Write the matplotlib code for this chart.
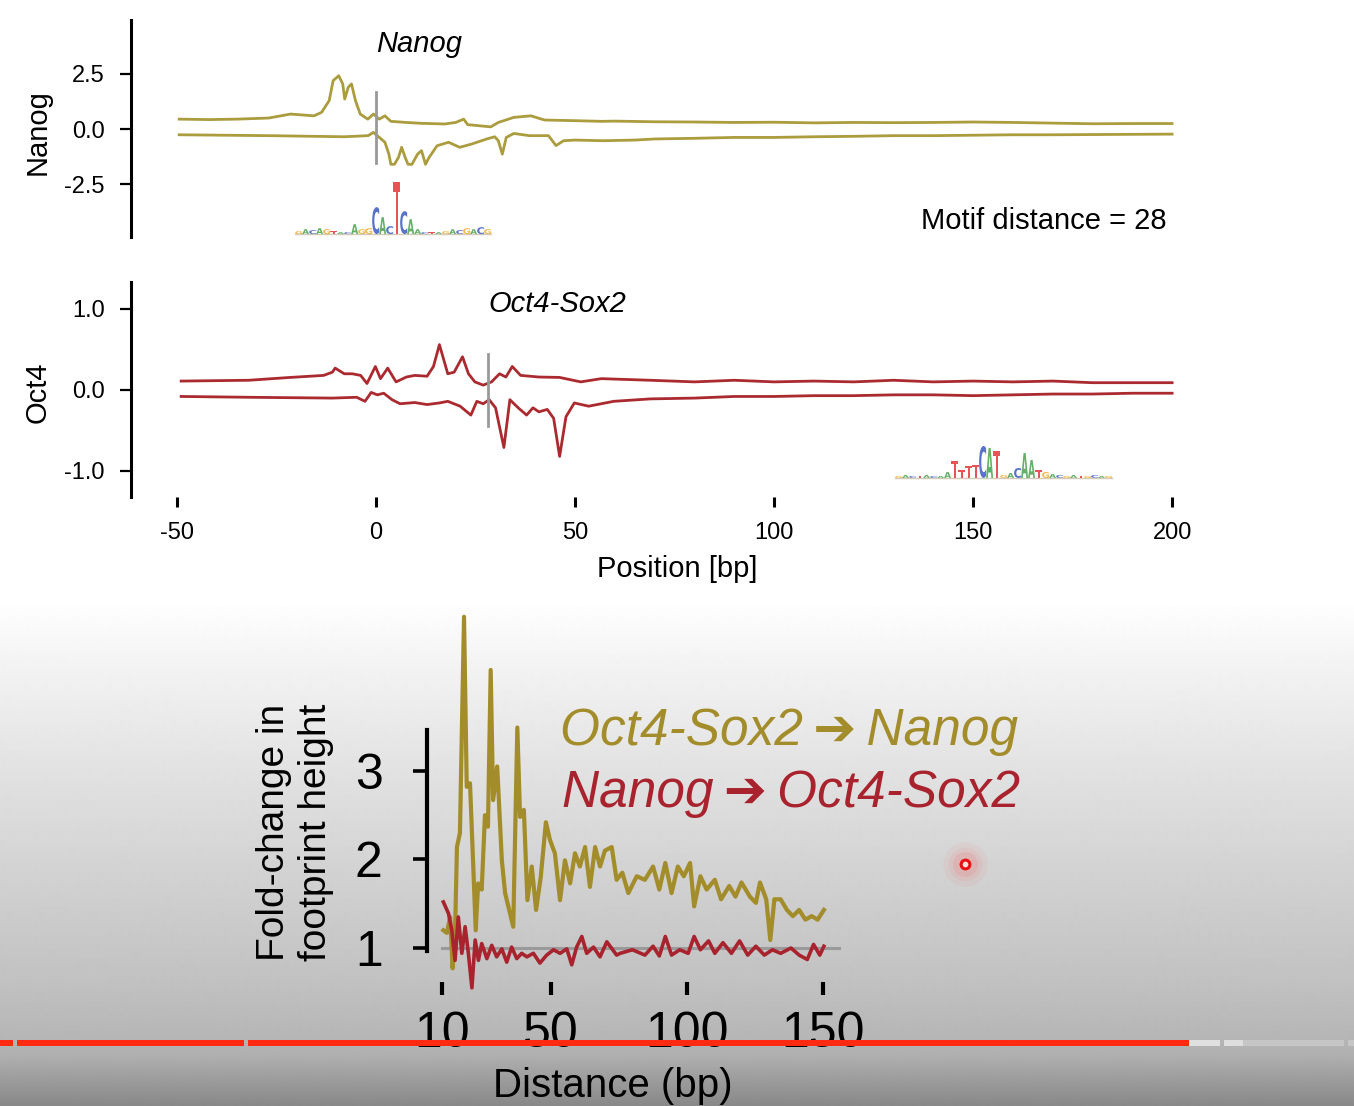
import numpy as np
import matplotlib.pyplot as plt
from matplotlib.textpath import TextPath
from matplotlib.patches import PathPatch, Rectangle
from matplotlib.font_manager import FontProperties
from matplotlib.transforms import Affine2D
from matplotlib.ticker import FormatStrFormatter

plt.rcParams['font.family'] = ['Liberation Sans', 'DejaVu Sans']
plt.rcParams['axes.unicode_minus'] = False

W, H = 1354, 1106

# ---- footprint profiles (position in bp, signal) ----
nanog_fwd_x = [-49.5, -42, -35, -27, -21.5, -15.6, -13.7, -11.8, -10.8, -9.4, -8.4, -7.9, -7, -6.2, -5.2,
               -4, -2.1, -0.7, 0.8, 2.2, 3.7, 7.5, 11.4, 17.2, 20, 22, 23, 28.8, 30.7, 34.6, 38.9, 42.3,
               50, 56.6, 60, 70, 80, 90, 100, 110, 120, 130, 140, 150, 160, 170, 180, 190, 200]
nanog_fwd_y = [0.45, 0.43, 0.45, 0.5, 0.68, 0.6, 0.76, 1.29, 2.2, 2.42, 2.05, 1.36, 1.9, 2.05, 1.29,
               0.68, 0.45, 0.68, 0.45, 0.6, 0.35, 0.3, 0.26, 0.23, 0.3, 0.45, 0.2, 0.1, 0.3, 0.53, 0.6, 0.41,
               0.38, 0.35, 0.36, 0.33, 0.32, 0.3, 0.31, 0.28, 0.3, 0.29, 0.3, 0.32, 0.3, 0.27, 0.24, 0.25, 0.25]
nanog_rev_x = [-49.5, -27, -8, -2, -0.7, 0.8, 2.2, 3.2, 3.7, 4.6, 5.6, 6.4, 7.3, 8, 9, 10.4, 11.4, 12.4,
               13.3, 15.3, 18.2, 21, 24, 27.8, 29.8, 30.7, 31.7, 32.7, 34.6, 38.5, 43.3, 45.2, 47.1, 50, 57,
               65, 70, 80, 90, 100, 110, 120, 130, 140, 150, 160, 170, 180, 190, 200]
nanog_rev_y = [-0.26, -0.3, -0.35, -0.3, -0.15, -0.38, -0.6, -1.14, -1.6, -1.6, -1.29, -0.83, -1.29, -1.6,
               -1.6, -1.14, -0.98, -1.6, -1.29, -0.76, -0.6, -0.83, -0.68, -0.45, -0.35, -0.53, -1.14, -0.38,
               -0.2, -0.3, -0.3, -0.75, -0.53, -0.5, -0.53, -0.5, -0.45, -0.42, -0.38, -0.38, -0.35, -0.33,
               -0.3, -0.3, -0.28, -0.26, -0.26, -0.25, -0.24, -0.23]

oct_fwd_x = [-49, -32, -21.6, -13.2, -11, -10.3, -8, -6, -3.9, -2.3, -0.2, 1.1, 2.9, 5, 7.6, 9.7, 12.8,
             14.4, 15.9, 18, 19.6, 21.7, 23.2, 24.8, 26.9, 29, 31, 32.6, 34.2, 36.3, 40.9, 46.1, 51.4, 56.6,
             68.9, 80, 90, 100, 110, 120, 130, 140, 150, 160, 170, 180, 190, 200]
oct_fwd_y = [0.11, 0.12, 0.155, 0.18, 0.22, 0.27, 0.2, 0.2, 0.18, 0.08, 0.29, 0.14, 0.27, 0.1, 0.16, 0.18,
             0.17, 0.29, 0.56, 0.2, 0.22, 0.41, 0.2, 0.1, 0.06, 0.1, 0.2, 0.16, 0.29, 0.18, 0.16, 0.155, 0.1,
             0.14, 0.12, 0.1, 0.12, 0.1, 0.11, 0.1, 0.12, 0.1, 0.11, 0.1, 0.11, 0.09, 0.09, 0.09]
oct_rev_x = [-49, -32, -11, -4.9, -2.8, -1.25, 0.3, 1.9, 4, 6, 9.7, 12.8, 15.9, 18, 21.1, 23.8, 25.3,
             26.9, 28.4, 30, 32.1, 33.6, 35.7, 37.8, 39.4, 40.9, 43, 44.6, 46.1, 47.7, 49.8, 53.4, 59.7,
             68.9, 80, 90, 100, 110, 120, 130, 140, 150, 160, 170, 180, 190, 200]
oct_rev_y = [-0.08, -0.09, -0.1, -0.09, -0.14, -0.03, -0.06, -0.04, -0.12, -0.17, -0.155, -0.18, -0.16,
             -0.14, -0.2, -0.31, -0.14, -0.17, -0.12, -0.22, -0.71, -0.12, -0.22, -0.31, -0.22, -0.27, -0.24,
             -0.35, -0.82, -0.33, -0.16, -0.2, -0.14, -0.11, -0.1, -0.08, -0.08, -0.07, -0.07, -0.06, -0.06,
             -0.07, -0.06, -0.05, -0.05, -0.04, -0.04]

nanog_motif_pos, oct_motif_pos = 0, 28
nanog_marker = (-1.55, 1.68)
oct_marker = (-0.44, 0.44)

# ---- fold change vs distance ----
dist_os_n = [10.5, 11.8, 13, 13.9, 14.8, 15.5, 16.6, 18.1, 19.1, 20.3, 21.5, 22.4, 23.3, 24.6, 25.8, 26.9,
             27.9, 28.8, 30.3, 32, 33.2, 34.7, 36.2, 37.7, 38.7, 40.1, 41.4, 43, 44.6, 46.3, 48.2, 49.7,
             51.5, 53.4, 55.2, 57.1, 58.9, 60.7, 62.6, 64.4, 66.3, 68.1, 69.9, 72.4, 74.2, 76.3, 78.5,
             81.6, 84.6, 87.6, 89.9, 92.1, 94.4, 96.7, 98.9, 101.2, 102.7, 105, 107.3, 110.3, 112.6,
             115.6, 117.9, 120.1, 123.2, 125.4, 126.9, 129.2, 130.7, 132.2, 134.5, 136.8, 139, 141.3,
             143.6, 145.9, 148.1, 150.4]
fold_os_n = [1.2, 1.17, 1.35, 0.77, 1.17, 2.14, 2.3, 4.74, 2.82, 2.86, 1.92, 1.2, 1.73, 1.66, 2.5, 2.37,
             4.14, 2.67, 3.05, 1.99, 1.62, 1.43, 1.24, 3.49, 2.48, 2.56, 1.54, 1.92, 1.43, 1.8, 2.42, 2.22,
             2.07, 1.54, 1.99, 1.73, 2.07, 1.92, 2.14, 1.69, 2.14, 1.92, 2.1, 2.14, 1.77, 1.85, 1.62, 1.81,
             1.77, 1.92, 1.66, 1.96, 1.62, 1.92, 1.81, 1.96, 1.47, 1.81, 1.66, 1.77, 1.55, 1.7, 1.58, 1.74,
             1.58, 1.51, 1.74, 1.55, 1.09, 1.55, 1.55, 1.43, 1.36, 1.43, 1.32, 1.36, 1.32, 1.43]
dist_n_os = [10.5, 12.4, 13.6, 14.8, 16, 17.3, 18.5, 19.7, 21, 22.2, 23.4, 24.6, 26.5, 28.3, 30.1, 32,
             33.8, 35.6, 37.5, 39.3, 41.2, 43.6, 46, 48.5, 51, 53.4, 55.9, 57.7, 59.5, 61.4, 63.2, 65.7,
             68.1, 70.6, 74.2, 75.5, 80, 84.6, 87.6, 89.9, 92.1, 94.4, 97.4, 100.5, 102.7, 105, 108, 110.3,
             113.3, 116.4, 119.4, 122.4, 125.4, 128.5, 131.5, 134.5, 138.3, 141.3, 144.3, 146.6, 148.9, 150.4]
fold_n_os = [1.52, 1.39, 1.2, 0.86, 1.35, 0.94, 1.24, 0.94, 0.55, 1.09, 0.86, 1.05, 0.88, 1.03, 0.9, 0.99,
             0.84, 1.01, 0.88, 0.94, 0.9, 0.94, 0.83, 0.92, 0.98, 0.94, 0.99, 0.81, 1.01, 1.13, 0.94, 1.01,
             0.9, 1.07, 0.92, 0.94, 0.98, 0.92, 1.02, 0.91, 1.13, 0.92, 0.98, 0.94, 1.13, 0.98, 1.08, 0.94,
             1.06, 0.94, 1.08, 0.92, 1.02, 0.92, 0.98, 0.94, 1.0, 0.92, 0.87, 1.04, 0.92, 1.02]
baseline_span = (10, 156)

# ---- motif logos (letter, relative height) ----
nanog_logo = list('GACAGTACAGGCACTCAACTAGACGACG')
nanog_logo_h = [3, 5, 4, 6, 5, 3, 2, 2, 10, 5, 6, 27, 17, 8, 52, 23, 15, 5, 2, 2, 2, 3, 5, 4, 6, 5, 7, 5]
oct_logo = list('GACTACAATTTTCATGACAATGACGATGCAG')
oct_logo_h = [2, 3, 2, 2, 3, 2, 2, 6, 17, 8, 12, 13, 32, 30, 27, 3, 5, 10, 25, 18, 8, 6, 4, 3, 2, 3, 2, 2, 3, 2, 2]

GOLD_TOP = '#ab9c3e'
RED_TOP = '#ab2a30'
GOLD = '#a38c2a'
RED = '#a8232d'
LOGO_COL = {'A': '#3c9c44', 'C': '#3150bd', 'G': '#f0a623', 'T': '#e02a2a'}


def box(x0, y0, x1, y1):
    return [x0 / W, 1 - y1 / H, (x1 - x0) / W, (y1 - y0) / H]


def fx(px):
    return px / W


def fy(py):
    return 1 - py / H


fig = plt.figure(figsize=(W / 100, H / 100), dpi=100)

# video-frame background gradient
bg = fig.add_axes([0, 0, 1, 1], zorder=-10)
grad_y = [0, 600, 665, 769, 874, 978, 1037, 1055, 1083, 1106]
grad_v = [255, 255, 243, 226, 210, 194, 182, 176, 154, 136]
rows = np.interp(np.arange(H), grad_y, grad_v) / 255
bg.imshow(np.repeat(rows[:, None], 2, axis=1), cmap='gray', vmin=0, vmax=1,
          aspect='auto', extent=[0, W, H, 0], interpolation='bilinear')
bg.set_xlim(0, W)
bg.set_ylim(H, 0)
bg.axis('off')


def style_axis(ax, lw):
    for s in ['top', 'right', 'bottom']:
        ax.spines[s].set_visible(False)
    ax.spines['left'].set_linewidth(lw)
    ax.patch.set_alpha(0)


# top: Nanog
ax1 = fig.add_axes(box(131, 20, 1190, 237))
style_axis(ax1, 2.2)
ax1.plot(nanog_fwd_x, nanog_fwd_y, color=GOLD_TOP, lw=2)
ax1.plot(nanog_rev_x, nanog_rev_y, color=GOLD_TOP, lw=2)
ax1.plot([nanog_motif_pos] * 2, nanog_marker, color='#999999', lw=2)
ax1.set_xlim(-61.6, 204.5)
ax1.set_ylim(-4.9, 4.95)
ax1.set_xticks([])
ax1.set_yticks([-2.5, 0, 2.5])
ax1.yaxis.set_major_formatter(FormatStrFormatter('%.1f'))
ax1.tick_params(axis='y', length=8, width=1.6, pad=11, labelsize=17)

# middle: Oct4
ax2 = fig.add_axes(box(131, 282, 1190, 497))
style_axis(ax2, 2.2)
ax2.plot(oct_fwd_x, oct_fwd_y, color=RED_TOP, lw=2)
ax2.plot(oct_rev_x, oct_rev_y, color=RED_TOP, lw=2)
ax2.plot([oct_motif_pos] * 2, oct_marker, color='#999999', lw=2)
ax2.set_xlim(-61.6, 204.5)
ax2.set_ylim(-1.321, 1.333)
ax2.set_xticks([-50, 0, 50, 100, 150, 200])
ax2.set_yticks([-1, 0, 1])
ax2.yaxis.set_major_formatter(FormatStrFormatter('%.1f'))
ax2.tick_params(axis='y', length=8, width=1.6, pad=11, labelsize=17)
ax2.tick_params(axis='x', length=7, width=2.2, pad=11, labelsize=17)

# bottom: fold change
ax3 = fig.add_axes(box(427, 600, 850, 982))
style_axis(ax3, 3)
ax3.plot(baseline_span, [1, 1], color='#9a9a9a', lw=2.2, clip_on=False, zorder=1)
ax3.plot(dist_os_n, fold_os_n, color=GOLD, lw=3, clip_on=False, zorder=2)
ax3.plot(dist_n_os, fold_n_os, color=RED, lw=2.6, clip_on=False, zorder=3)
ax3.set_xlim(4.49, 160)
ax3.set_ylim(0.616, 4.93)
ax3.spines['left'].set_bounds(0.97, 3.46)
ax3.set_yticks([1, 2, 3])
ax3.set_xticks([10, 50, 100, 150])
ax3.tick_params(axis='y', length=10, width=2.6, pad=22, labelsize=36)
ax3.tick_params(axis='x', length=9, width=3, pad=12, labelsize=36)

# texts
fig.text(fx(419), fy(44), 'Nanog', style='italic', fontsize=21, ha='center', va='center')
fig.text(fx(557), fy(304), 'Oct4-Sox2', style='italic', fontsize=21, ha='center', va='center')
fig.text(fx(1167), fy(221), 'Motif distance = 28', fontsize=21, ha='right', va='center')
fig.text(fx(38), fy(132), 'Nanog', fontsize=21, rotation=90, ha='center', va='center')
fig.text(fx(38), fy(392), 'Oct4', fontsize=21, rotation=90, ha='center', va='center')
fig.text(fx(677), fy(569), 'Position [bp]', fontsize=21, ha='center', va='center')
fig.text(fx(295), fy(832), 'Fold-change in\nfootprint height', fontsize=28, rotation=90,
         ha='center', va='center', linespacing=1.2)
fig.text(fx(560), fy(732), 'Oct4-Sox2\u2009\u2794\u2009Nanog', style='italic', fontsize=37, color=GOLD,
         ha='left', va='center')
fig.text(fx(562), fy(793), 'Nanog\u2009\u2794\u2009Oct4-Sox2', style='italic', fontsize=37, color=RED,
         ha='left', va='center')
fig.text(fx(613), fy(1097), 'Distance (bp)', fontsize=29, ha='center', va='baseline')

# overlay for logos and player chrome
ov = fig.add_axes([0, 0, 1, 1], zorder=10)
ov.set_xlim(0, W)
ov.set_ylim(H, 0)
ov.axis('off')
ov.patch.set_alpha(0)

logo_font = FontProperties(family='DejaVu Sans', weight='bold')


def draw_logo(ax, x0, base, letters, heights, col_w=7):
    px0, py0 = ax.transData.transform((x0, base))
    py0 = H - py0
    ov.plot([px0, px0 + col_w * len(letters)], [py0, py0], color='#b9a98a', lw=1, alpha=0.6)
    for i, (ch, h) in enumerate(zip(letters, heights)):
        tp = TextPath((0, 0), ch, size=1, prop=logo_font)
        bb = tp.get_extents()
        tr = (Affine2D().translate(-bb.x0, -bb.y0)
              .scale(col_w / bb.width, -h / bb.height)
              .translate(px0 + i * col_w, py0))
        ov.add_patch(PathPatch(tr.transform_path(tp), fc=LOGO_COL[ch], ec='none', alpha=0.8))


draw_logo(ax1, -20.35, -4.77, nanog_logo, nanog_logo_h)
draw_logo(ax2, 130.4, -1.086, oct_logo, oct_logo_h)

# progress bar
for x0, x1, c in [(0, 13, '#ff2a12'), (17, 244, '#ff2a12'), (248, 1189, '#ff2a12'),
                  (1189, 1220, '#e0e0e0'), (1224, 1243, '#dedede'), (1243, 1344, '#c6c6c6'),
                  (1348, 1354, '#c6c6c6')]:
    ov.add_patch(Rectangle((x0, 1040), x1 - x0, 6, color=c, lw=0))

# pointer dot
for r, a in [(16, 0.06), (12, 0.08), (9, 0.12)]:
    ov.scatter([965], [864], s=(2 * r) ** 2, color='#ff5050', alpha=a, lw=0)
ov.scatter([965], [864], s=40, facecolor='#ffdede', edgecolor='#e81010', lw=2.2)

fig.savefig('out.png', dpi=100)
